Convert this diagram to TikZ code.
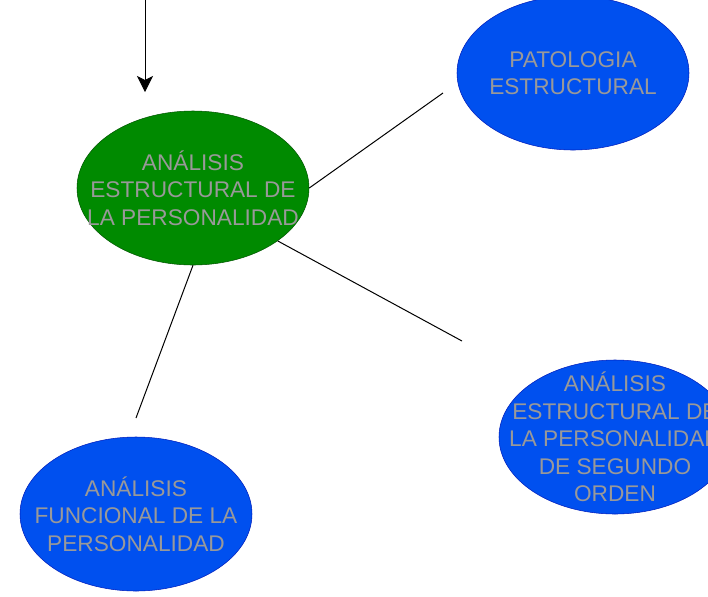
\documentclass[tikz,border=0pt]{standalone}
\usepackage{fontspec}
\setmainfont{Liberation Sans}
\usetikzlibrary{shapes.geometric,arrows.meta}

\definecolor{boxgreen}{HTML}{008A00}
\definecolor{linegreen}{HTML}{005700}
\definecolor{boxblue}{HTML}{0050EF}
\definecolor{lineblue}{HTML}{001DBC}
\definecolor{textgray}{HTML}{999999}

\begin{document}
\begin{tikzpicture}[x=0.75pt,y=-0.75pt,
    bubble/.style={ellipse, minimum width=174pt, minimum height=115.5pt, inner sep=0pt,
      label={[align=center, text=textgray, font=\fontsize{17pt}{20.6pt}\selectfont]center:#1}},
    mainbubble/.style={bubble={#1}, fill=boxgreen, draw=linegreen},
    subbubble/.style={bubble={#1}, fill=boxblue, draw=lineblue},
    link/.style={line width=0.75pt}]
    \clip (0,0) rectangle (708,597);
    \fill[white] (0,0) rectangle (708,597);

    \node[mainbubble={ANÁLISIS\\ESTRUCTURAL DE\\LA PERSONALIDAD}] (analisis) at (193,188) {};
    \node[subbubble={PATOLOGIA\\ESTRUCTURAL}] (patologia) at (573,73) {};
    \node[subbubble={ANÁLISIS\\ESTRUCTURAL DE\\LA PERSONALIDAD\\DE SEGUNDO\\ORDEN}] (segundo) at (615,437) {};
    \node[subbubble={ANÁLISIS\\FUNCIONAL DE LA\\PERSONALIDAD}] (funcional) at (136,514) {};

    % loose ends of the links
    \coordinate (start) at (145,0);
    \coordinate (top) at (145,92);
    \coordinate (toPat) at (443,93);
    \coordinate (toSeg) at (462,341);
    \coordinate (toFun) at (136,418);

    \draw[link, -{Stealth[length=12pt,width=12pt,inset=3pt]}] (start) -- (top);
    \draw[link] (analisis.east) -- (toPat);
    \draw[link] (analisis.-32) -- (toSeg);
    \draw[link] (analisis.south) -- (toFun);
  \end{tikzpicture}
\end{document}
